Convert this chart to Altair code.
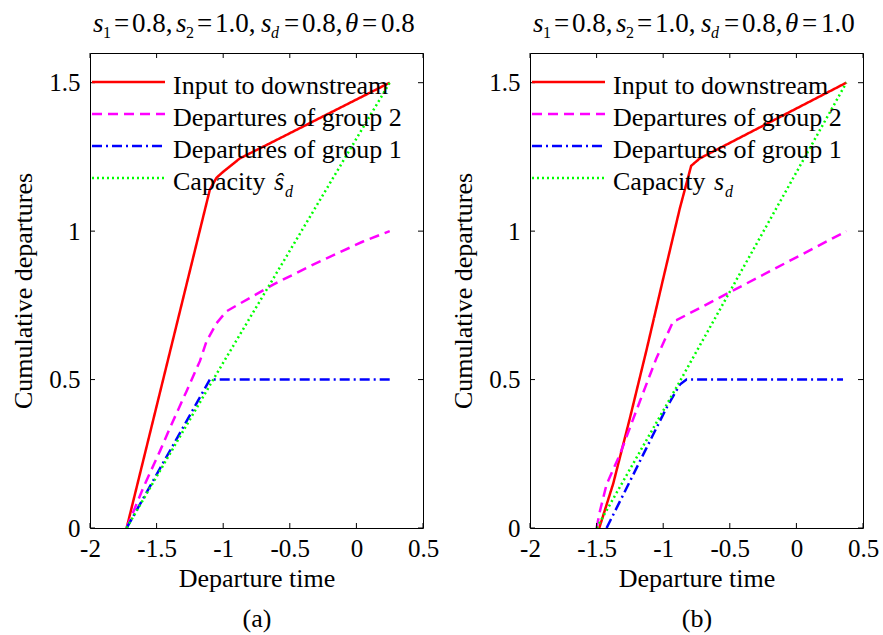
import altair as alt
import pandas as pd

FONT = "Liberation Serif"

# ---------------- data ----------------
series_names = ["Input to downstream", "Departures of group 2",
                "Departures of group 1", "Capacity"]
series_colors = ["#ff0000", "#ff00ff", "#0000ff", "#00ff00"]
series_dashes = [[1, 0], [10, 6], [10, 4, 2, 4], [2, 3]]

x_ticks = [-2, -1.5, -1, -0.5, 0, 0.5]
y_ticks = [0, 0.5, 1, 1.5]

# panel (a): theta = 0.8
a_input_x = [-1.725, -1.1, -1.05, -1.0, -0.875, -0.675, 0.25]
a_input_y = [0.0, 1.14, 1.18, 1.2, 1.245, 1.29, 1.5]
a_g2_x = [-1.725, -1.6, -1.475, -1.4, -1.275, -1.175, -1.125, -1.05, -0.975, -0.8, -0.625, -0.325, 0.05, 0.25]
a_g2_y = [0.0, 0.136, 0.259, 0.337, 0.461, 0.562, 0.629, 0.69, 0.73, 0.775, 0.82, 0.887, 0.965, 1.0]
a_g1_x = [-1.725, -1.1, 0.25]
a_g1_y = [0.0, 0.5, 0.5]
a_cap_x = [-1.725, -1.075, 0.25]
a_cap_y = [0.0, 0.5, 1.5]

# panel (b): theta = 1.0
b_input_x = [-1.48, -1.375, -1.25, -1.125, -1.0, -0.875, -0.79, -0.725, 0.375]
b_input_y = [0.0, 0.15, 0.37, 0.6, 0.84, 1.077, 1.22, 1.245, 1.5]
b_g2_x = [-1.5, -1.475, -1.425, -1.325, -1.175, -1.05, -0.925, -0.9, 0.375]
b_g2_y = [0.0, 0.057, 0.147, 0.248, 0.427, 0.573, 0.696, 0.7, 1.0]
b_g1_x = [-1.425, -1.3, -1.125, -0.975, -0.875, -0.825, 0.35]
b_g1_y = [0.0, 0.112, 0.27, 0.405, 0.483, 0.5, 0.5]
b_cap_x = [-1.5, -0.875, 0.375]
b_cap_y = [0.0, 0.494, 1.5]

W, H = 333, 475
one = pd.DataFrame({"k": [0]})


def txt(text, dx, dy, size, italic=False, align="left", baseline="alphabetic"):
    return alt.Chart(one).mark_text(
        text=text, align=align, baseline=baseline, fontSize=size,
        fontStyle="italic" if italic else "normal", font=FONT, color="black"
    ).encode(x=alt.value(dx), y=alt.value(dy))


def panel(series, theta_text, caption, hat):
    rows = []
    for name, xs, ys in series:
        for i, (xv, yv) in enumerate(zip(xs, ys)):
            rows.append({"series": name, "t": xv, "n": yv, "i": i})
    df = pd.DataFrame(rows)
    xsc = alt.Scale(domain=[-2, 0.5], nice=False, zero=False)
    ysc = alt.Scale(domain=[0, 1.6], nice=False, zero=False)

    xaxis = alt.Axis(
        values=x_ticks, title=["Departure time", caption], grid=False,
        domain=False, ticks=False, tickSize=0, labelPadding=28,
        labelExpr="'' + datum.value",
        labelBaseline="alphabetic", labelFontSize=25, labelFont=FONT,
        labelColor="black", labelFlush=False, labelOverlap=False,
        titleFont=FONT, titleFontSize=26, titleFontWeight="normal",
        titleColor="black", titleY=58, titleBaseline="alphabetic",
        titleLineHeight=40)
    yaxis = alt.Axis(
        values=y_ticks, title="Cumulative departures", grid=False,
        domain=False, ticks=False, tickSize=0, labelPadding=10,
        labelExpr="'' + datum.value",
        labelFontSize=25, labelFont=FONT, labelColor="black",
        labelFlush=False, labelOverlap=False,
        titleFont=FONT, titleFontSize=26, titleFontWeight="normal",
        titleColor="black", titleX=-67, titleBaseline="middle")

    lines = alt.Chart(df).mark_line(strokeWidth=2.5, clip=True).encode(
        x=alt.X("t:Q", scale=xsc, axis=xaxis),
        y=alt.Y("n:Q", scale=ysc, axis=yaxis),
        color=alt.Color("series:N", scale=alt.Scale(domain=series_names, range=series_colors), legend=None),
        strokeDash=alt.StrokeDash("series:N", scale=alt.Scale(domain=series_names, range=series_dashes), legend=None),
        order="i:Q",
    )

    xt = pd.DataFrame({"t": x_ticks})
    yt = pd.DataFrame({"n": y_ticks})
    tk = dict(color="black", strokeWidth=1)
    ticks = [
        alt.Chart(xt).mark_rule(**tk).encode(x=alt.X("t:Q", scale=xsc, axis=xaxis), y=alt.value(H), y2=alt.value(H - 5)),
        alt.Chart(xt).mark_rule(**tk).encode(x=alt.X("t:Q", scale=xsc, axis=xaxis), y=alt.value(0), y2=alt.value(5)),
        alt.Chart(yt).mark_rule(**tk).encode(y=alt.Y("n:Q", scale=ysc, axis=yaxis), x=alt.value(0), x2=alt.value(5)),
        alt.Chart(yt).mark_rule(**tk).encode(y=alt.Y("n:Q", scale=ysc, axis=yaxis), x=alt.value(W), x2=alt.value(W - 5)),
    ]

    # legend
    legend = []
    row_y = [29, 61, 93, 125]
    lf = 26
    for k, name in enumerate(series_names):
        legend.append(alt.Chart(one).mark_rule(
            color=series_colors[k], strokeDash=series_dashes[k], strokeWidth=2.5
        ).encode(x=alt.value(2), x2=alt.value(75), y=alt.value(row_y[k])))
        legend.append(txt(name, 83, row_y[k] + 12, lf))
    legend.append(txt("\u015d" if hat else "s", 184, row_y[3] + 12, lf, italic=True))
    legend.append(txt("d", 195, row_y[3] + 19, 16, italic=True))

    # title  s1 = 0.8, s2 = 1.0, sd = 0.8, theta = ...
    tb, sb = -21, -15
    fs = 27
    o = 3
    title = [
        txt("s", o + 0, tb, fs, True), txt("1", o + 10, sb, 16),
        txt("=", o + 21, tb, fs), txt("0.8,", o + 39, tb, fs),
        txt("s", o + 83, tb, fs, True), txt("2", o + 93, sb, 16),
        txt("=", o + 104, tb, fs), txt("1.0,", o + 122, tb, fs),
        txt("s", o + 168, tb, fs, True), txt("d", o + 178, sb, 16, True),
        txt("=", o + 191, tb, fs), txt("0.8,", o + 209, tb, fs),
        txt("\u03b8", o + 252, tb, fs, True),
        txt("=", o + 269, tb, fs), txt(theta_text, o + 288, tb, fs),
    ]

    return alt.layer(lines, *ticks, *legend, *title).properties(width=W, height=H)


pa = panel([(series_names[0], a_input_x, a_input_y),
            (series_names[1], a_g2_x, a_g2_y),
            (series_names[2], a_g1_x, a_g1_y),
            (series_names[3], a_cap_x, a_cap_y)], "0.8", "(a)", True)
pb = panel([(series_names[0], b_input_x, b_input_y),
            (series_names[1], b_g2_x, b_g2_y),
            (series_names[2], b_g1_x, b_g1_y),
            (series_names[3], b_cap_x, b_cap_y)], "1.0", "(b)", False)

chart = alt.hconcat(pa, pb, spacing=107, bounds="flush").properties(
    padding={"left": 9, "top": 9, "right": 2, "bottom": 2},
    background="white",
).configure_view(stroke="black", strokeWidth=1)

chart.save("out.html", embed_options={"renderer": "svg", "actions": False})
